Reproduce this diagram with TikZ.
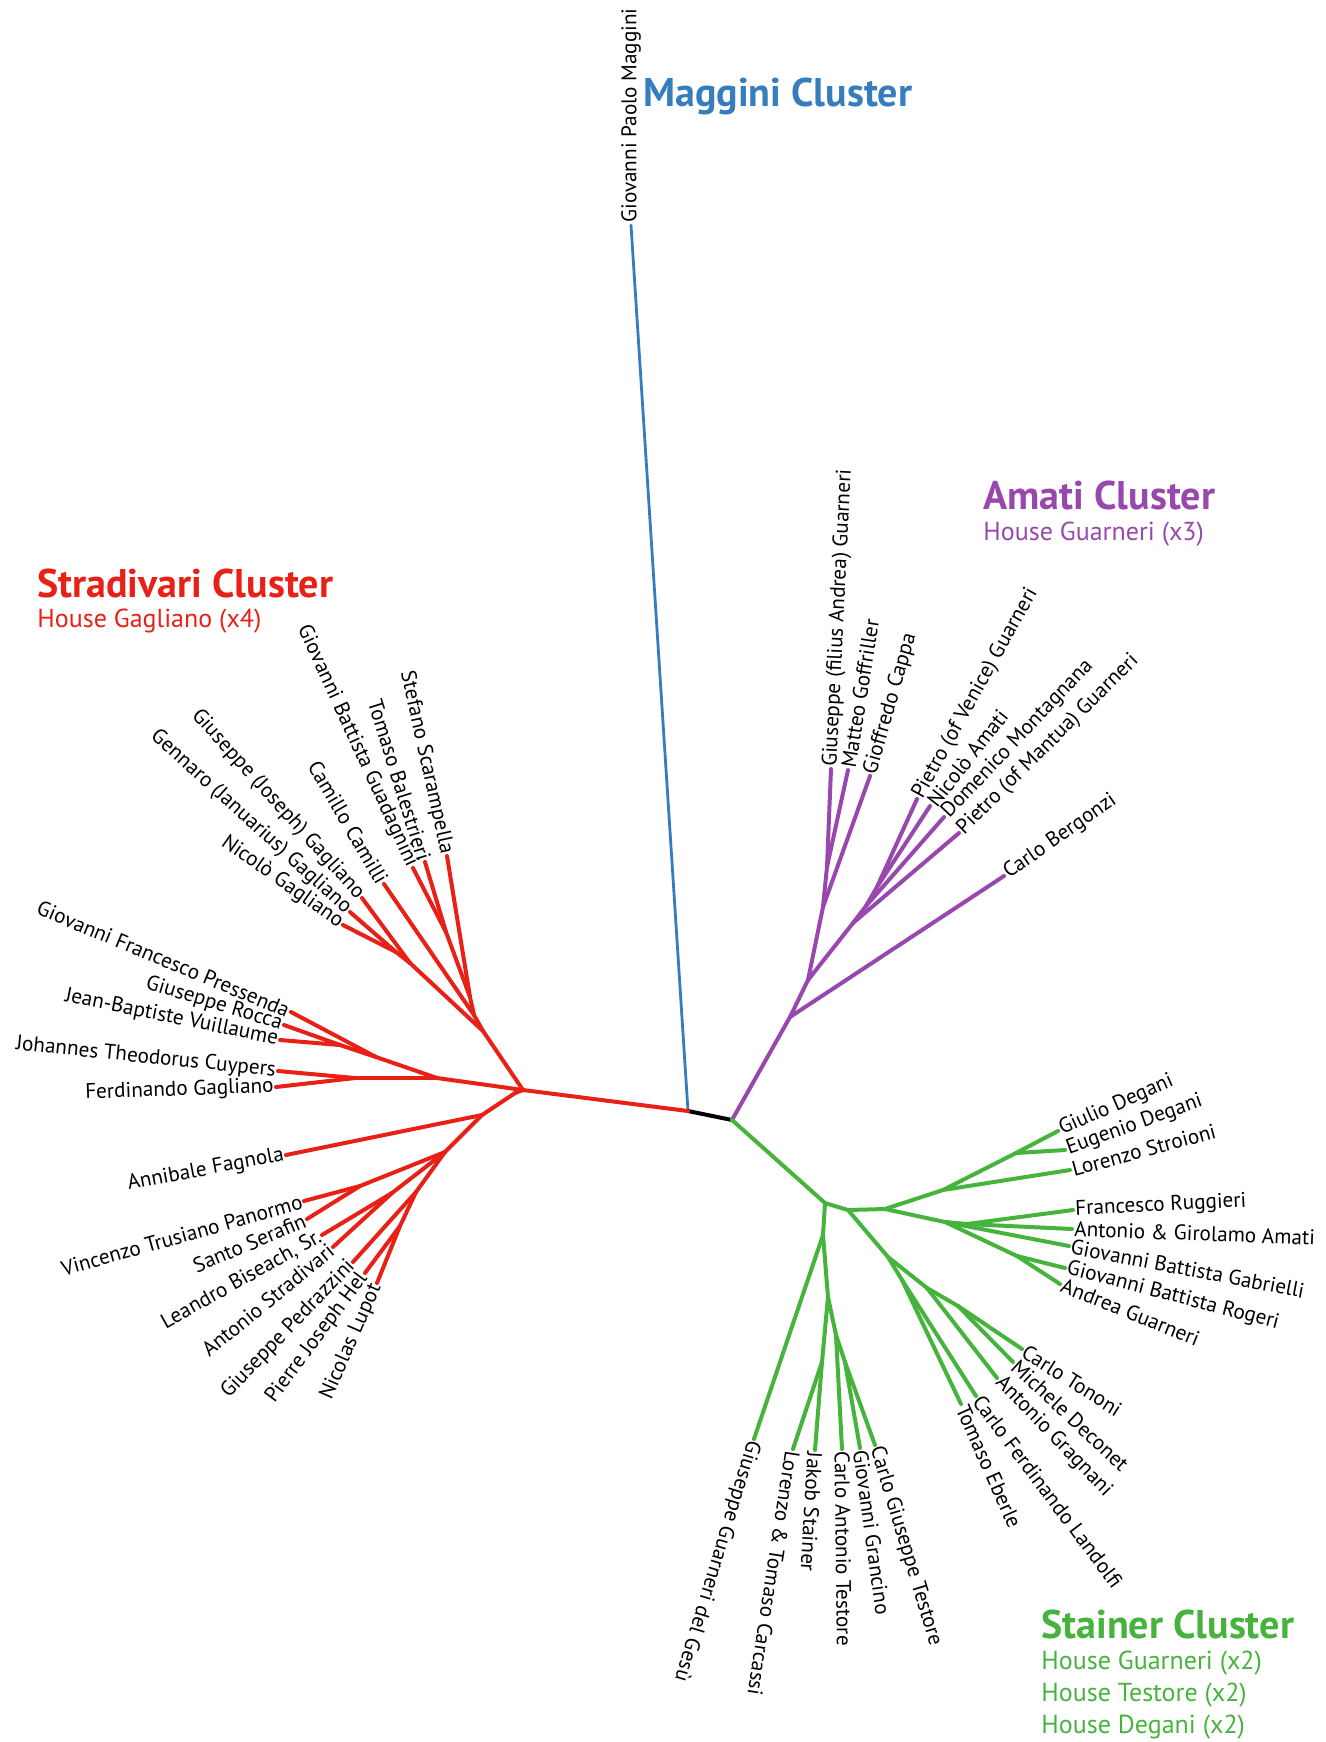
\documentclass[tikz,border=0pt]{standalone}
\usepackage{fontspec}
\setmainfont{PT Sans}
\usepackage{xcolor}
\usepackage{tikz}
\definecolor{stradred}{RGB}{232,32,22}
\definecolor{magblue}{RGB}{54,125,190}
\definecolor{amatipurple}{RGB}{152,72,172}
\definecolor{stainergreen}{RGB}{70,180,60}
\tikzset{
  branch/.style={line width=2pt, line cap=round, line join=round},
  redline/.style={branch, draw=stradred},
  blueline/.style={branch, line width=1.4pt, draw=magblue},
  purpleline/.style={branch, draw=amatipurple},
  greenline/.style={branch, draw=stainergreen},
  coreline/.style={branch, draw=black},
  lbl/.style={font=\fontsize{10.6}{12}\selectfont, inner sep=1pt},
  lblin/.style={lbl, anchor=east},
  lblout/.style={lbl, anchor=west},
  title/.style={font=\fontsize{20}{24}\selectfont\bfseries, anchor=base west, inner sep=0pt},
  house/.style={font=\fontsize{13}{15}\selectfont, anchor=base west, inner sep=0pt},
}
\begin{document}
\begin{tikzpicture}[x=0.5pt, y=-0.5pt]
    \useasboundingbox (0,0) rectangle (1326,1742);

    \coordinate (core) at (688,1111);
    \coordinate (hinge) at (732,1120);
    \coordinate (r0) at (523,1090);
    \coordinate (r0b) at (515,1093);
    \coordinate (r1) at (483,1031);
    \coordinate (r1a) at (474,1015);
    \coordinate (r1b) at (470,997);
    \coordinate (r1c) at (446,932);
    \coordinate (g1) at (410,963);
    \coordinate (g0) at (396,952);
    \coordinate (r2) at (437,1078);
    \coordinate (r2a) at (376,1057);
    \coordinate (r2c) at (340,1045);
    \coordinate (r2b) at (355,1078);
    \coordinate (f1) at (482,1115);
    \coordinate (f2) at (445,1152);
    \coordinate (p1) at (360,1186);
    \coordinate (b1) at (392,1193);
    \coordinate (q1) at (416,1192);
    \coordinate (q2) at (400,1226);
    \coordinate (a0) at (790,1017);
    \coordinate (a1) at (808,980);
    \coordinate (a2) at (823,907);
    \coordinate (a2a) at (827,867);
    \coordinate (a3) at (853,923);
    \coordinate (a3a) at (866,906);
    \coordinate (a3b) at (877,887);
    \coordinate (e0) at (825,1203);
    \coordinate (e2) at (848,1210);
    \coordinate (e3) at (885,1209);
    \coordinate (e5) at (943,1190);
    \coordinate (e5a) at (1016,1153);
    \coordinate (e6) at (945,1222);
    \coordinate (e6a) at (967,1224);
    \coordinate (e6b) at (1017,1256);
    \coordinate (e4) at (888,1257);
    \coordinate (e4a) at (927,1288);
    \coordinate (e4b) at (958,1306);
    \coordinate (e4c) at (902,1280);
    \coordinate (e1) at (823,1235);
    \coordinate (e7) at (828,1297);
    \coordinate (e8) at (822,1362);
    \coordinate (e9) at (836,1335);
    \coordinate (e9a) at (845,1362);

    \node[lblin, rotate=-77.5] (scarampella) at (447,856) {Stefano Scarampella};
    \node[lblin, rotate=-72.7] (balestrieri) at (425,862) {Tomaso Balestrieri};
    \node[lblin, rotate=-65.4] (guadagnini) at (413,868) {Giovanni Battista Guadagnini};
    \node[lblin, rotate=-59.8] (camilli) at (384,884) {Camillo Camilli};
    \node[lblin, rotate=-48] (giuseppegagliano) at (362,898) {Giuseppe (Joseph) Gagliano};
    \node[lblin, rotate=-42.2] (gennaro) at (350,912) {Gennaro (Januarius) Gagliano};
    \node[lblin, rotate=-35.2] (nicologagliano) at (343,925) {Nicolò Gagliano};
    \node[lblin, rotate=-22.6] (pressenda) at (291,1012) {Giovanni Francesco Pressenda};
    \node[lblin, rotate=-16.9] (rocca) at (284,1025) {Giuseppe Rocca};
    \node[lblin, rotate=-11.6] (vuillaume) at (280,1040) {Jean-Baptiste Vuillaume};
    \node[lblin, rotate=-5.8] (cuypers) at (278,1071) {Johannes Theodorus Cuypers};
    \node[lblin, rotate=2] (ferdinando) at (276,1087) {Ferdinando Gagliano};
    \node[lblin, rotate=10.6] (fagnola) at (286,1155) {Annibale Fagnola};
    \node[lblin, rotate=15.7] (panormo) at (304,1201) {Vincenzo Trusiano Panormo};
    \node[lblin, rotate=22.8] (serafin) at (307,1219) {Santo Serafin};
    \node[lblin, rotate=29.2] (biseach) at (322,1235) {Leandro Biseach, Sr.};
    \node[lblin, rotate=39.3] (stradivari) at (333,1247) {Antonio Stradivari};
    \node[lblin, rotate=46] (pedrazzini) at (353,1262) {Giuseppe Pedrazzini};
    \node[lblin, rotate=53.4] (hel) at (365,1273) {Pierre Joseph Hel};
    \node[lblin, rotate=66.3] (lupot) at (377,1283) {Nicolas Lupot};

    \node[lblout, rotate=90] (maggini) at (631,225) {Giovanni Paolo Maggini};

    \node[lblout, rotate=87.2] (giuseppeguarneri) at (831,769) {Giuseppe (filius Andrea) Guarneri};
    \node[lblout, rotate=81] (goffriller) at (848,770) {Matteo Goffriller};
    \node[lblout, rotate=74.1] (cappa) at (870,776) {Gioffredo Cappa};
    \node[lblout, rotate=61] (pietrovenice) at (917,799) {Pietro (of Venice) Guarneri};
    \node[lblout, rotate=51.9] (nicoloamati) at (930,806) {Nicolò Amati};
    \node[lblout, rotate=46.6] (montagnana) at (944,817) {Domenico Montagnana};
    \node[lblout, rotate=44.7] (pietromantua) at (959,833) {Pietro (of Mantua) Guarneri};
    \node[lblout, rotate=35] (bergonzi) at (1004,876) {Carlo Bergonzi};

    \node[lblout, rotate=23.7] (giulio) at (1058,1131) {Giulio Degani};
    \node[lblout, rotate=19.7] (eugenio) at (1065,1150) {Eugenio Degani};
    \node[lblout, rotate=15.2] (stroioni) at (1070,1170) {Lorenzo Stroioni};
    \node[lblout, rotate=2.8] (ruggieri) at (1073,1210) {Francesco Ruggieri};
    \node[lblout, rotate=-2] (amati) at (1072,1229) {Antonio \& Girolamo Amati};
    \node[lblout, rotate=-10.8] (gabrielli) at (1069,1246) {Giovanni Battista Gabrielli};
    \node[lblout, rotate=-14.6] (rogeri) at (1065,1268) {Giovanni Battista Rogeri};
    \node[lblout, rotate=-21.8] (andrea) at (1060,1284) {Andrea Guarneri};
    \node[lblout, rotate=-32.4] (tononi) at (1022,1349) {Carlo Tononi};
    \node[lblout, rotate=-43] (deconet) at (1013,1362) {Michele Deconet};
    \node[lblout, rotate=-46] (gragnani) at (997,1378) {Antonio Gragnani};
    \node[lblout, rotate=-53] (landolfi) at (976,1396) {Carlo Ferdinando Landolfi};
    \node[lblout, rotate=-66] (eberle) at (961,1404) {Tomaso Eberle};
    \node[lblout, rotate=-73.2] (cgtestore) at (875,1445) {Carlo Giuseppe Testore};
    \node[lblout, rotate=-82] (grancino) at (860,1448) {Giovanni Grancino};
    \node[lblout, rotate=-89.3] (catestore) at (842,1449) {Carlo Antonio Testore};
    \node[lblout, rotate=-93.3] (stainer) at (815,1450) {Jakob Stainer};
    \node[lblout, rotate=-98.8] (carcassi) at (793,1449) {Lorenzo \& Tomaso Carcassi};
    \node[lblout, rotate=-107] (gesu) at (754,1439) {Giuseppe Guarneri del Gesù};

    \node[title, text=magblue] (maggtitle) at (643,106) {Maggini Cluster};
    \node[title, text=amatipurple] (amatititle) at (983,509) {Amati Cluster};
    \node[house, text=amatipurple] (amatihouse) at (983,540) {House Guarneri (x3)};
    \node[title, text=stradred] (stradtitle) at (37,597) {Stradivari Cluster};
    \node[house, text=stradred] (stradhouse) at (37,627) {House Gagliano (x4)};
    \node[title, text=stainergreen] (stainertitle) at (1041,1638) {Stainer Cluster};
    \node[house, text=stainergreen] (stainerguarneri) at (1041,1669) {House Guarneri (x2)};
    \node[house, text=stainergreen] (stainertestore) at (1041,1701) {House Testore (x2)};
    \node[house, text=stainergreen] (stainerdegani) at (1041,1733) {House Degani (x2)};

    \draw[blueline] (core) -- (maggini.west);
    \draw[coreline] (core) -- (hinge);

    \draw[redline] (core) -- (r0);
    \draw[redline] (r0) -- (r1);
    \draw[redline] (r1) -- (r1a);
    \draw[redline] (r1a) -- (camilli.east);
    \draw[redline] (r1a) -- (r1b);
    \draw[redline] (r1b) -- (scarampella.east);
    \draw[redline] (r1b) -- (r1c);
    \draw[redline] (r1c) -- (balestrieri.east);
    \draw[redline] (r1c) -- (guadagnini.east);
    \draw[redline] (r1) -- (g1);
    \draw[redline] (g1) -- (giuseppegagliano.east);
    \draw[redline] (g1) -- (g0);
    \draw[redline] (g0) -- (gennaro.east);
    \draw[redline] (g0) -- (nicologagliano.east);
    \draw[redline] (r0) -- (r2);
    \draw[redline] (r2) -- (r2a);
    \draw[redline] (r2a) -- (pressenda.east);
    \draw[redline] (r2a) -- (r2c);
    \draw[redline] (r2c) -- (rocca.east);
    \draw[redline] (r2c) -- (vuillaume.east);
    \draw[redline] (r2) -- (r2b);
    \draw[redline] (r2b) -- (cuypers.east);
    \draw[redline] (r2b) -- (ferdinando.east);
    \draw[redline] (r0) -- (r0b);
    \draw[redline] (r0b) -- (f1);
    \draw[redline] (f1) -- (fagnola.east);
    \draw[redline] (f1) -- (f2);
    \draw[redline] (f2) -- (p1);
    \draw[redline] (p1) -- (panormo.east);
    \draw[redline] (p1) -- (serafin.east);
    \draw[redline] (f2) -- (b1);
    \draw[redline] (b1) -- (biseach.east);
    \draw[redline] (b1) -- (stradivari.east);
    \draw[redline] (f2) -- (q1);
    \draw[redline] (q1) -- (pedrazzini.east);
    \draw[redline] (q1) -- (q2);
    \draw[redline] (q2) -- (hel.east);
    \draw[redline] (q2) -- (lupot.east);

    \draw[purpleline] (hinge) -- (a0);
    \draw[purpleline] (a0) -- (bergonzi.west);
    \draw[purpleline] (a0) -- (a1);
    \draw[purpleline] (a1) -- (a2);
    \draw[purpleline] (a2) -- (cappa.west);
    \draw[purpleline] (a2) -- (a2a);
    \draw[purpleline] (a2a) -- (giuseppeguarneri.west);
    \draw[purpleline] (a2a) -- (goffriller.west);
    \draw[purpleline] (a1) -- (a3);
    \draw[purpleline] (a3) -- (pietromantua.west);
    \draw[purpleline] (a3) -- (a3a);
    \draw[purpleline] (a3a) -- (montagnana.west);
    \draw[purpleline] (a3a) -- (a3b);
    \draw[purpleline] (a3b) -- (pietrovenice.west);
    \draw[purpleline] (a3b) -- (nicoloamati.west);

    \draw[greenline] (hinge) -- (e0);
    \draw[greenline] (e0) -- (e2);
    \draw[greenline] (e2) -- (e3);
    \draw[greenline] (e3) -- (e5);
    \draw[greenline] (e5) -- (stroioni.west);
    \draw[greenline] (e5) -- (e5a);
    \draw[greenline] (e5a) -- (giulio.west);
    \draw[greenline] (e5a) -- (eugenio.west);
    \draw[greenline] (e3) -- (e6);
    \draw[greenline] (e6) -- (e6a);
    \draw[greenline] (e6a) -- (ruggieri.west);
    \draw[greenline] (e6a) -- (amati.west);
    \draw[greenline] (e6) -- (gabrielli.west);
    \draw[greenline] (e6) -- (e6b);
    \draw[greenline] (e6b) -- (rogeri.west);
    \draw[greenline] (e6b) -- (andrea.west);
    \draw[greenline] (e2) -- (e4);
    \draw[greenline] (e4) -- (e4a);
    \draw[greenline] (e4a) -- (gragnani.west);
    \draw[greenline] (e4a) -- (e4b);
    \draw[greenline] (e4b) -- (tononi.west);
    \draw[greenline] (e4b) -- (deconet.west);
    \draw[greenline] (e4) -- (e4c);
    \draw[greenline] (e4c) -- (landolfi.west);
    \draw[greenline] (e4c) -- (eberle.west);
    \draw[greenline] (e0) -- (e1);
    \draw[greenline] (e1) -- (gesu.west);
    \draw[greenline] (e1) -- (e7);
    \draw[greenline] (e7) -- (e8);
    \draw[greenline] (e8) -- (carcassi.west);
    \draw[greenline] (e8) -- (stainer.west);
    \draw[greenline] (e7) -- (e9);
    \draw[greenline] (e9) -- (catestore.west);
    \draw[greenline] (e9) -- (e9a);
    \draw[greenline] (e9a) -- (grancino.west);
    \draw[greenline] (e9a) -- (cgtestore.west);
\end{tikzpicture}
\end{document}
